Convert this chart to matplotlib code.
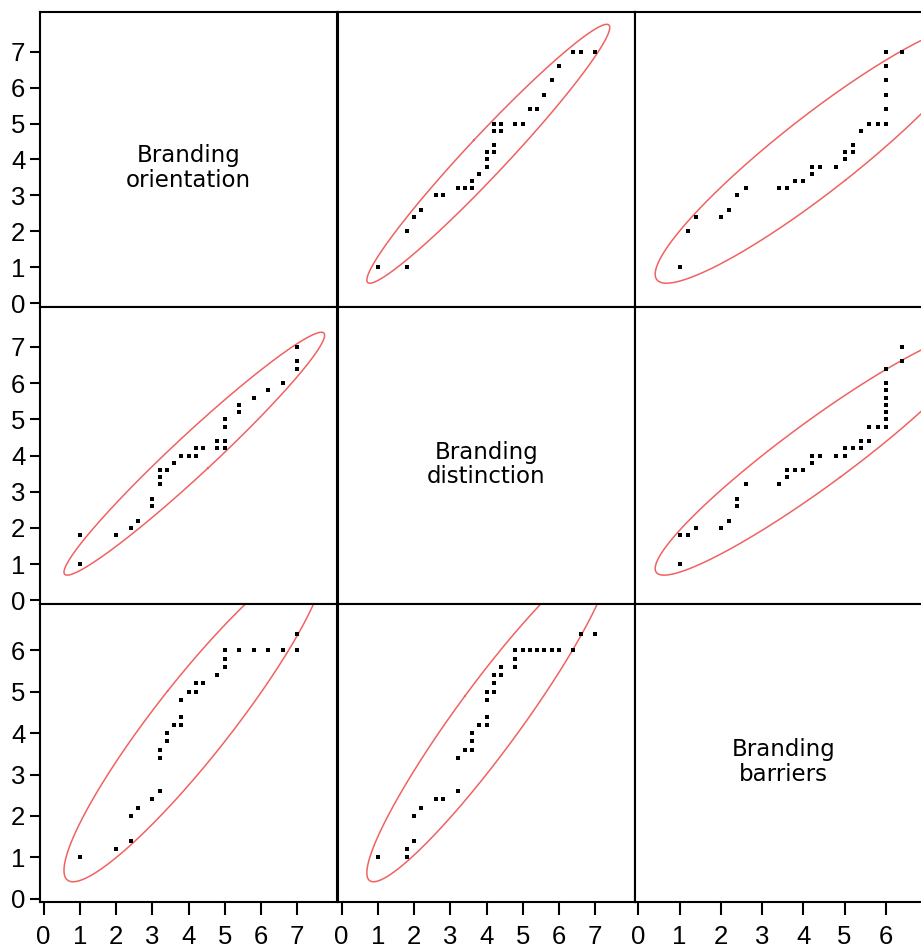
import matplotlib
matplotlib.use('Agg')
import matplotlib.pyplot as plt
import numpy as np

# Variable names and axis ranges
names = ['Branding\norientation', 'Branding\ndistinction', 'Branding\nbarriers']
limits = [(-0.1, 8.1), (-0.1, 8.1), (-0.08, 7.12)]
ticks = [range(0, 8), range(0, 8), range(0, 7)]

# orientation vs distinction
od_orient = [1, 1, 2, 2.4, 2.6, 3, 3, 3.2, 3.2, 3.2, 3.4, 3.6, 3.8, 4.0, 4.2,
             4.2, 4.4, 4.8, 4.8, 5.0, 5.0, 5.0, 5.0, 5.4, 5.4, 5.8, 6.2, 6.6,
             7, 7, 7]
od_distinct = [1.8, 1, 1.8, 2.0, 2.2, 2.6, 2.8, 3.2, 3.4, 3.6, 3.6, 3.8, 4.0,
               4.0, 4.0, 4.2, 4.2, 4.2, 4.4, 4.2, 4.4, 4.8, 5.0, 5.2, 5.4, 5.6,
               5.8, 6.0, 6.4, 6.6, 7.0]

# orientation vs barriers
ob_orient = [1, 2, 2.4, 2.4, 2.6, 3.0, 3.2, 3.2, 3.2, 3.4, 3.4, 3.6, 3.8, 3.8,
             3.8, 4.0, 4.2, 4.2, 4.4, 4.8, 5.0, 5.0, 5.0, 5.4, 5.8, 6.2, 6.6,
             7.0, 7.0]
ob_barriers = [1, 1.2, 1.4, 2.0, 2.2, 2.4, 2.6, 3.4, 3.6, 3.8, 4.0, 4.2, 4.2,
               4.4, 4.8, 5.0, 5.0, 5.2, 5.2, 5.4, 5.6, 5.8, 6.0, 6.0, 6.0, 6.0,
               6.0, 6.0, 6.4]

# distinction vs barriers
db_distinct = [1, 1.8, 1.8, 2.0, 2.0, 2.2, 2.6, 2.8, 3.2, 3.2, 3.4, 3.6, 3.6,
               3.6, 3.8, 4.0, 4.0, 4.0, 4.0, 4.2, 4.2, 4.2, 4.4, 4.4, 4.8, 4.8,
               4.8, 5.0, 5.2, 5.4, 5.6, 5.8, 6.0, 6.4, 6.6, 7.0]
db_barriers = [1, 1, 1.2, 1.4, 2.0, 2.2, 2.4, 2.4, 2.6, 3.4, 3.6, 3.6, 3.8, 4.0,
               4.2, 4.2, 4.4, 4.8, 5.0, 5.0, 5.2, 5.4, 5.4, 5.6, 5.6, 5.8, 6.0,
               6.0, 6.0, 6.0, 6.0, 6.0, 6.0, 6.0, 6.4, 6.4]

pairs = {
    (0, 1): (od_orient, od_distinct),
    (0, 2): (ob_orient, ob_barriers),
    (1, 2): (db_distinct, db_barriers),
}

# statistics behind the 95% density ellipses
ell_mean = [4.16, 4.05, 4.35]
ell_sd = [1.47, 1.37, 1.61]
ell_corr = {(0, 1): 0.975, (0, 2): 0.93, (1, 2): 0.945}


def density_ellipse(mx, my, sx, sy, r, level=0.95, n=400):
    cov = np.array([[sx * sx, r * sx * sy], [r * sx * sy, sy * sy]])
    vals, vecs = np.linalg.eigh(cov)
    k = np.sqrt(-2 * np.log(1 - level))
    t = np.linspace(0, 2 * np.pi, n)
    circ = np.vstack([np.cos(t), np.sin(t)]) * (np.sqrt(vals)[:, None] * k)
    pts = vecs @ circ
    return pts[0] + mx, pts[1] + my


plt.rcParams['font.family'] = ['Liberation Sans Narrow', 'Liberation Sans',
                               'DejaVu Sans']

W, H = 921, 950
fig = plt.figure(figsize=(W / 100, H / 100), dpi=100)

col_left = [40, 338, 635]
col_w = 297
row_top = [12, 307, 604]
row_h = [295, 297, 298]

for i in range(3):      # row -> y variable
    for j in range(3):  # column -> x variable
        rect = [col_left[j] / W, 1 - (row_top[i] + row_h[i]) / H,
                col_w / W, row_h[i] / H]
        ax = fig.add_axes(rect)
        ax.set_xlim(limits[j])
        ax.set_ylim(limits[i])
        for s in ax.spines.values():
            s.set_linewidth(1.5)
            s.set_color('black')

        if i == j:
            ax.text(0.5, 0.47, names[i], transform=ax.transAxes,
                    ha='center', va='center', fontsize=16.5,
                    family='DejaVu Sans', linespacing=1.1)
        else:
            if (j, i) in pairs:
                xs, ys = pairs[(j, i)]
            else:
                ys, xs = pairs[(i, j)]
            r = ell_corr[(min(i, j), max(i, j))]
            ex, ey = density_ellipse(ell_mean[j], ell_mean[i],
                                     ell_sd[j], ell_sd[i], r)
            ax.plot(ex, ey, color='#f06262', lw=1.1)
            ax.plot(xs, ys, 's', color='black', markersize=3.1,
                    markeredgewidth=0)

        # ticks only on the outer left and bottom edges
        if j == 0:
            ax.set_yticks(list(ticks[i]))
            ax.tick_params(axis='y', direction='out', length=7.5, width=1.5,
                           pad=3, labelsize=18.5)
        else:
            ax.set_yticks([])
        if i == 2:
            ax.set_xticks(list(ticks[j]))
            ax.tick_params(axis='x', direction='out', length=9.5, width=1.5,
                           pad=7, labelsize=18.5)
        else:
            ax.set_xticks([])

fig.savefig('out.png', dpi=100)
